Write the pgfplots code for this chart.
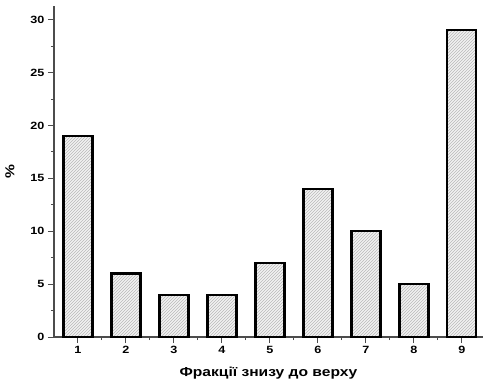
\documentclass[border=0pt]{standalone}
\usepackage{pgfplots}
\pgfplotsset{compat=1.18}
\usepackage{fontspec}
\setmainfont{Liberation Sans}[FakeStretch=1.2]
\usetikzlibrary{patterns}
\pgfplotstableread{
x y
1 19
2 6
3 4
4 4
5 7
6 14
7 10
8 5
9 29
}\data
\begin{document}
\begin{tikzpicture}
\begin{axis}[name=ax, scale only axis, width=429pt, height=331pt,
 xmin=0.5, xmax=9.44, ymin=0, ymax=31.3,
 axis x line=bottom, axis y line=left,
 axis line style={-, line width=1.3pt, black!70},
 xtick={1,...,9}, minor xtick={1.5,2.5,...,8.5},
 ytick={0,5,...,30}, minor ytick={2.5,7.5,...,27.5},
 tick align=outside, major tick length=6pt, minor tick length=3pt,
 tick style={line width=1pt, black!70},
 ticklabel style={font=\bfseries\fontsize{10.5}{12}\selectfont},
 /pgf/number format/assume math mode=true,
 xlabel={Фракції знизу до верху}, ylabel={\%},
 label style={font=\bfseries\fontsize{13}{15}\selectfont},
 xlabel style={yshift=-6pt},
 ylabel style={yshift=9pt},
]
\addplot[ybar, bar width=29pt, bar shift=0pt, draw=none,
  preaction={fill=gray!10},
  pattern=north east lines, pattern color=gray!55]
  table[x=x,y=y] {\data};
\addplot[ybar, bar width=29pt, bar shift=0pt, draw=black, line width=2.2pt, fill=none]
  table[x=x,y=y] {\data};
\end{axis}
\pgfresetboundingbox
\path ([xshift=-54pt,yshift=-47pt]ax.south west) rectangle ([yshift=6pt]ax.north east);
\end{tikzpicture}
\end{document}
